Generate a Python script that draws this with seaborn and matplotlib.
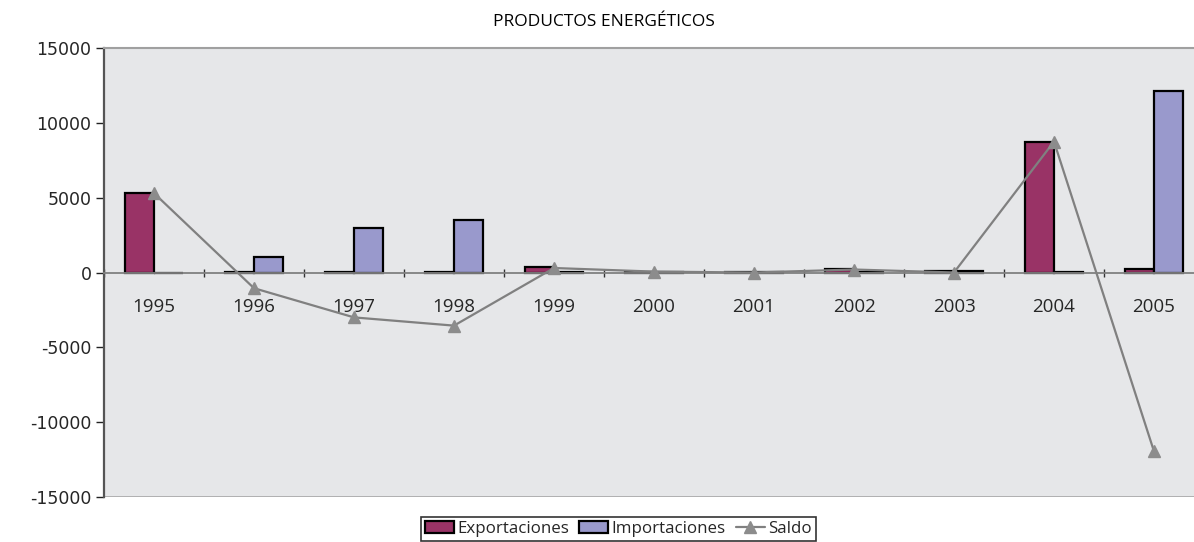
import matplotlib
matplotlib.use("Agg")
import matplotlib.pyplot as plt
import seaborn as sns
import pandas as pd
import numpy as np

years = ["1995", "1996", "1997", "1998", "1999", "2000", "2001", "2002", "2003", "2004", "2005"]
exportaciones = [5300, 60, 30, 30, 350, 60, 30, 260, 80, 8750, 250]
importaciones = [0, 1050, 3000, 3500, 10, 50, 30, 60, 110, 50, 12150]
saldo = [5300, -1050, -3000, -3550, 300, 60, 0, 200, 0, 8750, -11950]
y_ticks = [-15000, -10000, -5000, 0, 5000, 10000, 15000]

sns.set_theme(style="white")
plt.rcParams['font.family'] = ['Open Sans', 'DejaVu Sans']

df = pd.DataFrame({
    "year": years * 2,
    "valor": exportaciones + importaciones,
    "serie": ["Exportaciones"] * len(years) + ["Importaciones"] * len(years),
})

fig = plt.figure(figsize=(11.94, 5.42), dpi=100)
ax = fig.add_axes([104 / 1194, 1 - 497 / 542, 1100 / 1194, 449 / 542])
ax.set_facecolor("#e6e7e9")

sns.barplot(data=df, x="year", y="valor", hue="serie", order=years,
            hue_order=["Exportaciones", "Importaciones"],
            palette=["#993366", "#9999cc"], width=0.58, edgecolor="black",
            linewidth=1.6, saturation=1, ax=ax, legend=True)

ax.plot(np.arange(len(years)), saldo, color="#808080", lw=1.6, marker="^",
        markersize=8, markerfacecolor="#8c8c8c", markeredgecolor="#8c8c8c",
        label="Saldo", zorder=5)

ax.set_xlim(-0.5, len(years) - 0.5)
ax.set_ylim(-15000, 15000)
ax.set_yticks(y_ticks)
ax.set_yticklabels([str(v) for v in y_ticks], family="DejaVu Sans", fontsize=12.5)
ax.set_xlabel("")
ax.set_ylabel("")

# x axis on the zero line
ax.spines["bottom"].set_position(("data", 0))
ax.spines["bottom"].set_color("#808080")
ax.spines["bottom"].set_linewidth(1.3)
ax.spines["top"].set_visible(True)
ax.spines["top"].set_color("#a0a0a0")
ax.spines["top"].set_linewidth(1.5)
ax.spines["right"].set_visible(False)
ax.spines["left"].set_color("#555555")
ax.spines["left"].set_linewidth(1.6)
ax.axhline(-15000, color="#a0a0a0", lw=1.8, zorder=0)

ax.set_xticks(np.arange(len(years)) - 0.5, minor=True)
ax.tick_params(axis="x", which="minor", direction="inout", length=6, width=1, color="#333333", bottom=True)
ax.tick_params(axis="x", which="major", length=0, pad=18, labelsize=13.5)
ax.tick_params(axis="y", direction="out", length=6, width=1, color="#222222", left=True, pad=3)

handles, labels = ax.get_legend_handles_labels()
ax.get_legend().remove()
leg = fig.legend(handles, labels, loc="upper left",
                 bbox_to_anchor=(421 / 1194, 1 - 517 / 542), ncol=3,
                 frameon=True, fancybox=False, fontsize=12.2,
                 handlelength=1.7, handletextpad=0.2, columnspacing=0.6,
                 borderpad=0.25, borderaxespad=0)
leg.get_frame().set_edgecolor("black")
leg.get_frame().set_linewidth(1.2)

fig.text(604 / 1194, 1 - 22 / 542, "PRODUCTOS ENERGÉTICOS", ha="center", va="center",
         fontsize=12.5, color="black")

fig.savefig("out.png", dpi=100, facecolor="white")
